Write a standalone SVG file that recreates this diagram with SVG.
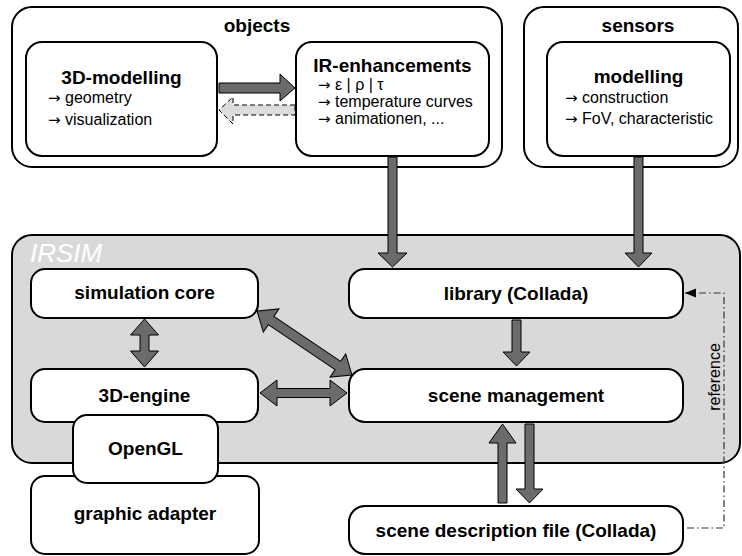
<svg xmlns="http://www.w3.org/2000/svg" width="742" height="556" viewBox="0 0 742 556">
<style>
.box{fill:#fff;stroke:#000;stroke-width:2}
.irsim{fill:#d9d9d9;stroke:#000;stroke-width:2}
.t{font-family:"Liberation Sans",Arial,sans-serif;font-weight:bold;font-size:19px;text-anchor:middle;fill:#000}
.i{font-family:"Liberation Sans",Arial,sans-serif;font-size:16px;fill:#000}
.a{font-family:"DejaVu Sans",sans-serif;font-size:15px}
.arr{fill:#6b6b6b;stroke:#000;stroke-width:1;stroke-linejoin:miter}
.arrl{fill:#dcdcdc;stroke:#000;stroke-width:1;stroke-dasharray:5,3}
.ref{fill:none;stroke:#333;stroke-width:1.2;stroke-dasharray:7,3,1.5,3}
</style>
<defs>
<marker id="ah" markerUnits="userSpaceOnUse" markerWidth="12" markerHeight="10" refX="11" refY="5" orient="auto">
<path d="M0,0.5 L11,5 L0,9.5 Z" fill="#000"/>
</marker>
</defs>

<g id="objects">
<rect class="box" x="12" y="7" width="490" height="160" rx="20"/>
<text class="t" x="257" y="32">objects</text>
</g>
<g id="sensors">
<rect class="box" x="524" y="7" width="214" height="160" rx="20"/>
<text class="t" x="638" y="32">sensors</text>
</g>
<g id="modelling3d">
<rect class="box" x="26" y="42" width="191" height="114" rx="16"/>
<text class="t" x="121.5" y="84">3D-modelling</text>
<text class="i" x="48" y="103"><tspan class="a">→</tspan> geometry</text>
<text class="i" x="48" y="125"><tspan class="a">→</tspan> visualization</text>
</g>
<g id="irenh">
<rect class="box" x="296" y="42" width="193" height="114" rx="16"/>
<text class="t" x="392.5" y="72">IR-enhancements</text>
<text class="i" x="318" y="90"><tspan class="a">→</tspan> ε | ρ | τ</text>
<text class="i" x="318" y="107"><tspan class="a">→</tspan> temperature curves</text>
<text class="i" x="318" y="124"><tspan class="a">→</tspan> animationen, ...</text>
</g>
<g id="modelling">
<rect class="box" x="547" y="42" width="183" height="114" rx="16"/>
<text class="t" x="638.5" y="83">modelling</text>
<text class="i" x="565" y="103"><tspan class="a">→</tspan> construction</text>
<text class="i" x="565" y="124"><tspan class="a">→</tspan> FoV, characteristic</text>
</g>

<g id="irsim">
<rect class="irsim" x="12" y="235" width="728" height="228" rx="20"/>
<text x="30" y="262" font-family="Liberation Sans,Arial,sans-serif" font-style="italic" font-size="26" fill="#fff">IRSIM</text>
</g>
<g id="simcore">
<rect class="box" x="31" y="269" width="227" height="49" rx="14"/>
<text class="t" x="144.5" y="299">simulation core</text>
</g>
<g id="engine">
<rect class="box" x="31" y="369" width="227" height="53" rx="14"/>
<text class="t" x="144.5" y="402">3D-engine</text>
</g>
<g id="adapter">
<rect class="box" x="31" y="476" width="228" height="78" rx="14"/>
<text class="t" x="145" y="520">graphic adapter</text>
</g>
<g id="opengl">
<rect class="box" x="73" y="415" width="145" height="68" rx="14"/>
<text class="t" x="145.5" y="455">OpenGL</text>
</g>
<g id="library">
<rect class="box" x="349" y="269" width="334" height="49" rx="16"/>
<text class="t" x="516" y="300">library (Collada)</text>
</g>
<g id="scenemgmt">
<rect class="box" x="349" y="369" width="334" height="53" rx="16"/>
<text class="t" x="516" y="402">scene management</text>
</g>
<g id="scenefile">
<rect class="box" x="349" y="506" width="334" height="48" rx="16"/>
<text class="t" x="516" y="537">scene description file (Collada)</text>
</g>

<g id="connectors">
<polygon class="arr" points="219,83 280,83 280,74 295,88 280,101 280,93 219,93"/>
<polygon class="arrl" points="295,105 233,105 233,97 219,110 233,124 233,115 295,115"/>
<polygon class="arr" points="388,157 397,157 397,253 407,253 392.5,267 378,253 388,253"/>
<polygon class="arr" points="634,157 643,157 643,253 652,253 638.5,267 625,253 634,253"/>
<polygon class="arr" points="512,320 521,320 521,352 530,352 516.5,366 503,352 512,352"/>
<polygon class="arr" points="498,503 507,503 507,443 516,443 502.5,424 489,443 498,443"/>
<polygon class="arr" points="525,424 534,424 534,489 543,489 529.5,503 516,489 525,489"/>
<polygon class="arr" points="144.5,319 158.5,335 149,335 149,351 158.5,351 144.5,367 130.5,351 140,351 140,335 130.5,335"/>
<polygon class="arr" points="260,393 277,380 277,388.5 330,388.5 330,380 347,393 330,406 330,397.5 277,397.5 277,406"/>
<polygon class="arr" transform="translate(304.5,343) rotate(33.97)" points="-57.25,0 -40.25,-14 -40.25,-5 40.25,-5 40.25,-14 57.25,0 40.25,14 40.25,5 -40.25,5 -40.25,14"/>
<path class="ref" d="M687,528 H724 V293 H685" marker-end="url(#ah)"/>
<text class="i" transform="translate(720,377) rotate(-90)" text-anchor="middle">reference</text>
</g>
</svg>
